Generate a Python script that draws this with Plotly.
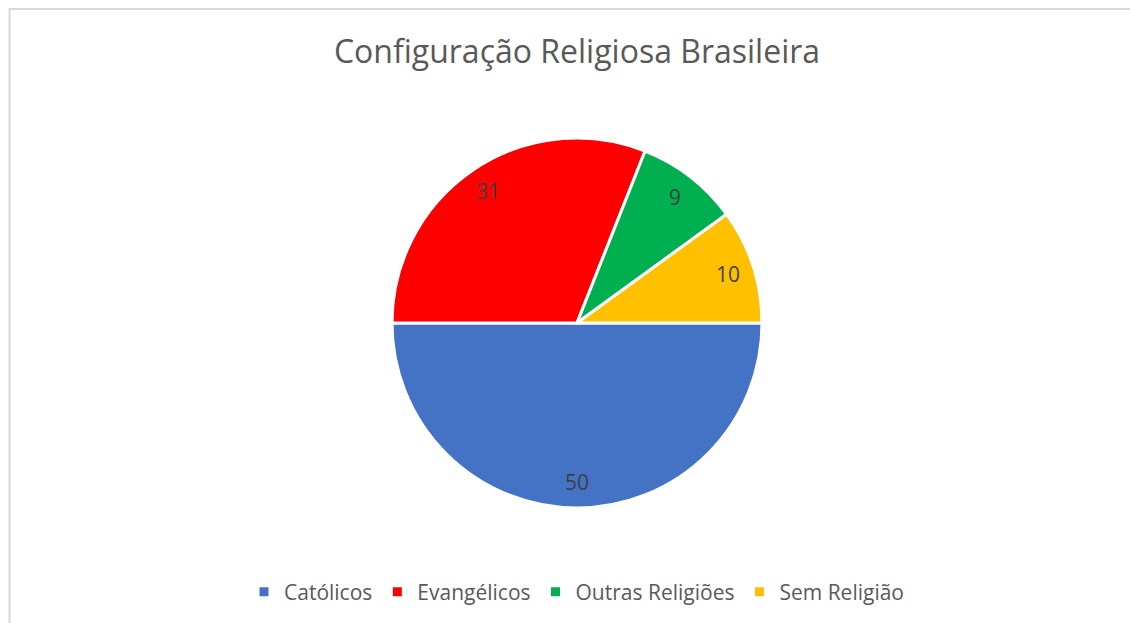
import math
import plotly.graph_objects as go

labels = ["Católicos", "Evangélicos", "Outras Religiões", "Sem Religião"]
values = [50, 31, 9, 10]
colors = ["#4472C4", "#FF0000", "#00B050", "#FFC000"]
title_text = "Configuração Religiosa Brasileira"

W, H = 1130, 623
cx, cy, R = 577, 323, 185
FONT = "Open Sans"

fig = go.Figure(go.Pie(
    labels=labels, values=values, sort=False, direction="clockwise", rotation=90,
    marker=dict(colors=colors, line=dict(color="white", width=3)),
    textinfo="none", hoverinfo="label+value",
    domain=dict(x=[(cx - R) / W, (cx + R) / W], y=[1 - (cy + R) / H, 1 - (cy - R) / H]),
))

# data labels placed near outer edge of each slice (Excel style), derived from values
total = sum(values)
start = 0.0  # degrees clockwise from 3 o'clock
annotations = []
for lab, v in zip(labels, values):
    mid = start + v / total * 360 / 2
    start += v / total * 360
    ang = math.radians(-mid)
    r = 0.86 * R
    px = cx + r * math.cos(ang)
    py = cy - r * math.sin(ang)
    annotations.append(dict(x=px / W, y=1 - py / H, xref="paper", yref="paper",
                            xanchor="center", yanchor="middle",
                            text=str(v), showarrow=False,
                            font=dict(family=FONT, size=21, color="#404040")))

fig.update_layout(
    width=W, height=H,
    margin=dict(l=0, r=0, t=0, b=0),
    paper_bgcolor="white", plot_bgcolor="white",
    title=dict(text=title_text, x=cx / W, xanchor="center", y=1 - 52 / H, yanchor="middle",
               font=dict(family=FONT, size=32, color="#595959")),
    showlegend=True,
    legend=dict(orientation="h", x=cx / W, xanchor="center", y=1 - 592 / H, yanchor="middle",
                font=dict(family=FONT, size=21, color="#595959"), traceorder="normal"),
    annotations=annotations,
    shapes=[dict(type="rect", xref="paper", yref="paper", x0=9.5 / W, y0=-0.1, x1=1.1, y1=1 - 9 / H,
                 line=dict(color="#D9D9D9", width=2), fillcolor="rgba(0,0,0,0)", layer="below")],
)

fig.write_html("out.html", config={"displayModeBar": False},
               post_script="document.body.style.margin='0';document.body.style.overflow='hidden';")
